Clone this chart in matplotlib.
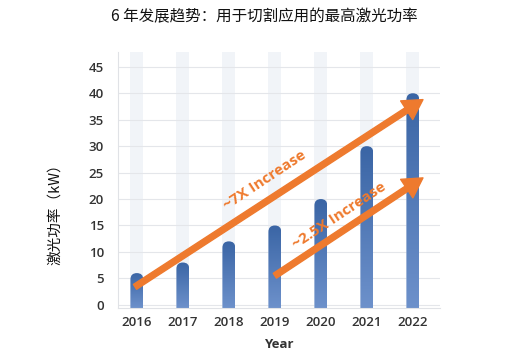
import matplotlib
matplotlib.use("Agg")
import matplotlib.pyplot as plt
import numpy as np
from matplotlib.patches import FancyBboxPatch, FancyArrowPatch, Rectangle
from matplotlib.colors import LinearSegmentedColormap

years = ["2016", "2017", "2018", "2019", "2020", "2021", "2022"]
power_kw = [6, 8, 12, 15, 20, 30, 40]
yticks = [0, 5, 10, 15, 20, 25, 30, 35, 40, 45]
title = "6 年发展趋势：用于切割应用的最高激光功率"
ylabel = "激光功率（kW）"
xlabel = "Year"
# trend arrows: (start_idx, start_val, end_idx, end_val)
arrow_7x = (-0.04, 3.4, 6.22, 38.8)
arrow_25x = (3.0, 5.5, 6.22, 24.0)
label_7x = "~7X Increase"
label_25x = "~2.5X Increase"
label_7x_pos = (2.77, 23.5)
label_25x_pos = (4.39, 16.9)

W, H = 531, 356
fig = plt.figure(figsize=(W / 100, H / 100), dpi=100)
L, R, T, B = 118, 440, 52, 308
ax = fig.add_axes([L / W, 1 - B / H, (R - L) / W, (B - T) / H])

x = np.arange(len(years))
ymin, ymax = -0.6, 47.8
ax.set_xlim(-0.41, 6.59)
ax.set_ylim(ymin, ymax)

bw = 0.28
for xi in x:
    ax.add_patch(Rectangle((xi - bw / 2, ymin), bw, ymax - ymin, facecolor="#f1f4f8",
                           edgecolor="none", zorder=0))

ax.set_yticks(yticks)
ax.grid(axis="y", color="#e4e6ea", linewidth=0.8, zorder=0.5)
ax.set_axisbelow(True)

grad = np.linspace(0, 1, 256).reshape(-1, 1)
cmap = LinearSegmentedColormap.from_list("b", ["#6d91cb", "#3a65a5"])
px_per_x = (R - L) / (6.59 + 0.41)
px_per_y = (B - T) / (ymax - ymin)
rad_x = bw / 2
aspect = px_per_x / px_per_y
for xi, v in zip(x, power_kw):
    patch = FancyBboxPatch((xi - bw / 2, ymin - 3), bw, v - ymin + 3,
                           boxstyle=f"round,pad=0,rounding_size={rad_x}",
                           mutation_aspect=aspect, facecolor="none", edgecolor="none", zorder=2)
    ax.add_patch(patch)
    im = ax.imshow(grad, cmap=cmap, extent=(xi - bw / 2, xi + bw / 2, ymin, v),
                   origin="lower", aspect="auto", zorder=2)
    im.set_clip_path(patch)
ax.set_xlim(-0.41, 6.59)
ax.set_ylim(ymin, ymax)

orange = "#ee7a2e"
for a in (arrow_7x, arrow_25x):
    arr = FancyArrowPatch((a[0], a[1]), (a[2], a[3]),
                          arrowstyle="simple,head_length=14,head_width=16,tail_width=4.2",
                          mutation_scale=1, color=orange, zorder=4, shrinkA=0, shrinkB=0)
    ax.add_patch(arr)

for pos, lab in ((label_7x_pos, label_7x), (label_25x_pos, label_25x)):
    ax.text(pos[0], pos[1], lab, rotation=33.5, rotation_mode="anchor", ha="center", va="center",
            color=orange, fontsize=11, fontweight="bold", family="Open Sans", zorder=5)

ax.set_xticks(x)
ax.set_xticklabels(years)
ax.tick_params(length=0, labelsize=9.5, labelcolor="#333333", pad=6)
for lab in ax.get_xticklabels() + ax.get_yticklabels():
    lab.set_family("Open Sans")
    lab.set_fontweight("semibold")
ax.tick_params(axis="y", pad=10)

for s in ["top", "right"]:
    ax.spines[s].set_visible(False)
for s in ["left", "bottom"]:
    ax.spines[s].set_color("#e0e2e6")
    ax.spines[s].set_linewidth(0.8)

ax.set_xlabel(xlabel, family="Open Sans", fontweight="bold", fontsize=9.5, color="#333333", labelpad=6)
fig.text(55 / W, 1 - 211 / H, ylabel, rotation=90, ha="center", va="center",
         family=["Noto Sans CJK SC", "DejaVu Sans"], fontsize=10.5, color="#111111")
fig.text(264 / W, 1 - 17 / H, title, ha="center", va="center",
         family=["Noto Sans CJK SC", "DejaVu Sans"], fontsize=11.2, color="#111111")

fig.savefig("out.png", dpi=100)
